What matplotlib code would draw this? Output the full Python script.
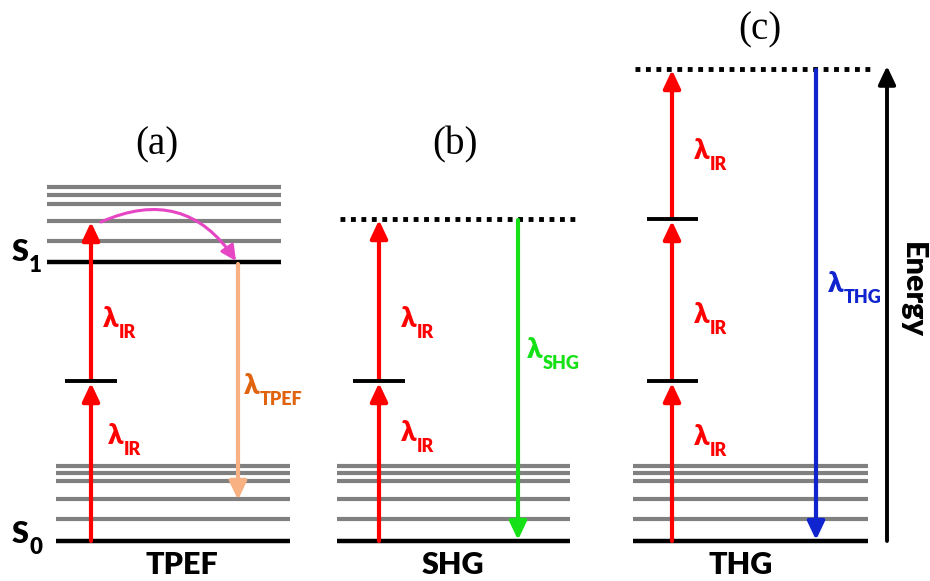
import matplotlib
matplotlib.use("Agg")
import matplotlib.pyplot as plt

# ---- data (energies measured upward from S0, arbitrary units) ----
panel_titles = ["(a)", "(b)", "(c)"]
process_names = ["TPEF", "SHG", "THG"]
S0_vib = [22, 42, 60, 68, 75]          # vibrational sublevels of S0
S1_level = 279                          # S1 ground vibrational level
S1_vib = [300, 320, 337, 346, 354]      # vibrational sublevels of S1
tpef_virtual = [160]                    # intermediate virtual state (TPEF)
tpef_pump_top = 320                     # top of two-photon excitation
tpef_emit_end = 41                      # end of fluorescence arrow
shg_virtual = [160, 322]                # virtual states SHG
thg_virtual = [160, 322, 472]           # virtual states THG
energy_axis_top = 475

# ---- layout ----
fig = plt.figure(figsize=(9.30, 5.81), dpi=100)
ax = fig.add_axes([0, 0, 1, 1])
ax.set_xlim(0, 930)
ax.set_ylim(-40, 541)
ax.axis("off")

GRAY = "#808080"
RED = "#ff0000"
SANS = ["Lato", "DejaVu Sans"]
W = "heavy"


def hline(x0, x1, y, color, lw=3.0, ls="-", z=1):
    ax.plot([x0, x1], [y, y], color=color, lw=lw, ls=ls, solid_capstyle="butt",
            dash_capstyle="butt", zorder=z)


def arrow(x, y0, y1, color, lw=3.0, z=3):
    ax.annotate("", xy=(x, y1), xytext=(x, y0),
                arrowprops=dict(arrowstyle="-|>,head_width=0.26,head_length=0.55",
                                lw=lw, color=color, mutation_scale=20,
                                shrinkA=0, shrinkB=0), zorder=z)


def lam(x, y, sub, color, size=20, subsize=13, sym="\u03bb"):
    t = ax.text(x, y, sym, color=color, fontsize=size, fontweight=W,
                family=SANS, ha="left", va="baseline")
    ax.annotate(sub, xy=(1, 0), xycoords=t, xytext=(0.3, -4),
                textcoords="offset points", color=color, fontsize=subsize,
                fontweight=W, family=SANS, ha="left", va="baseline")


# panel x extents
bot_x = [(56, 290), (337, 570), (633, 868)]
top_x = (47, 281)

# ground states & vibrational levels
for (x0, x1) in bot_x:
    for e in S0_vib:
        hline(x0, x1, e, GRAY)
    hline(x0, x1, 0, "black", lw=3.2)

# ---- (a) TPEF ----
for e in S1_vib:
    hline(top_x[0], top_x[1], e, GRAY)
hline(top_x[0], top_x[1], S1_level, "black", lw=3.2)
for e in tpef_virtual:
    hline(65, 117, e, "black", lw=2.8, z=4)
xa = 91
arrow(xa, 0, tpef_virtual[0] - 2, RED)
arrow(xa, tpef_virtual[0], tpef_pump_top - 1, RED)
ax.annotate("", xy=(236, S1_level + 1), xytext=(101, tpef_pump_top - 1),
            arrowprops=dict(arrowstyle="-|>,head_width=0.25,head_length=0.5",
                            lw=2.2, color="#e645c4", mutation_scale=18,
                            connectionstyle="arc3,rad=-0.42",
                            shrinkA=0, shrinkB=0), zorder=4)
arrow(238, S1_level - 2, tpef_emit_end, "#f7b182")
lam(103, 214, "IR", RED)
lam(108, 97, "IR", RED)
lam(244, 147, "TPEF", "#e0640f")

# ---- (b) SHG ----
hline(340, 577, shg_virtual[1], "black", lw=3.5, ls=(0, (1.0, 1.15)))
hline(353, 405, shg_virtual[0], "black", lw=2.8, z=4)
xb = 379
arrow(xb, 0, shg_virtual[0] - 2, RED)
arrow(xb, shg_virtual[0], shg_virtual[1] - 1, RED)
arrow(518, shg_virtual[1] - 1, 1, "#16e016")
lam(401, 214, "IR", RED)
lam(401, 100, "IR", RED)
lam(527, 183, "SHG", "#16e016")

# ---- (c) THG ----
hline(635, 872, thg_virtual[2], "black", lw=3.5, ls=(0, (1.0, 1.15)))
for e in thg_virtual[:2]:
    hline(647, 698, e, "black", lw=2.8, z=4)
xc = 672
arrow(xc, 0, thg_virtual[0] - 2, RED)
arrow(xc, thg_virtual[0], thg_virtual[1] - 2, RED)
arrow(xc, thg_virtual[1], thg_virtual[2] - 1, RED)
arrow(816, thg_virtual[2] - 1, 1, "#0f23cf")
lam(694, 382, "IR", RED)
lam(694, 218, "IR", RED)
lam(694, 96, "IR", RED)
lam(828, 249, "THG", "#0f23cf")

# energy axis
arrow(887, 0, energy_axis_top, "black", lw=2.8)
ax.text(913, 251, "Energy", rotation=270, fontsize=22, fontweight=W,
        family=SANS, ha="center", va="center")

# state labels
lam(12, 280, "1", "black", size=22, subsize=16, sym="S")
lam(12, -2, "0", "black", size=22, subsize=16, sym="S")

# panel titles
for x, y, s in zip([157, 455, 760], [396, 396, 511], panel_titles):
    ax.text(x, y, s, fontsize=28, family=["Liberation Serif", "DejaVu Serif"],
            ha="center", va="center")

# process names
for x, s in zip([182, 453, 741], process_names):
    ax.text(x, -24, s, fontsize=22, fontweight=W, family=SANS,
            ha="center", va="center")

fig.savefig("out.png", dpi=100)
